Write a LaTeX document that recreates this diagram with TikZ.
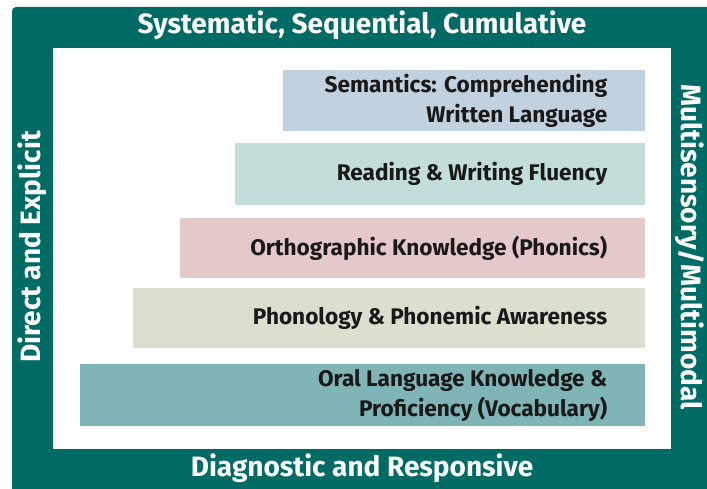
\documentclass[tikz,border=0pt]{standalone}
\usepackage{fontspec}
\setmainfont{Fira Sans}
\definecolor{frameteal}{RGB}{0,106,101}
\definecolor{cSem}{RGB}{193,209,221}
\definecolor{cRead}{RGB}{195,221,218}
\definecolor{cOrth}{RGB}{229,201,201}
\definecolor{cPhon}{RGB}{219,223,205}
\definecolor{cOral}{RGB}{128,181,183}
\definecolor{txtdark}{RGB}{25,25,25}
\begin{document}
\begin{tikzpicture}[x=1pt,y=-1pt,
  barbox/.style={anchor=north west, inner sep=0pt, draw=none},
  barlabel/.style={anchor=east, align=right, text=txtdark, font=\bfseries\fontsize{22.6}{30}\selectfont, inner sep=0pt},
  framelabel/.style={text=white, font=\bfseries\fontsize{28}{32}\selectfont, inner sep=0pt}]
\useasboundingbox (0,0) rectangle (707,489);
\fill[white] (0,0) rectangle (707,489);
% frame
\fill[frameteal, rounded corners=4pt] (12,7) rectangle (712,494);
\fill[white] (53,48) rectangle (671,449);
% bars
\node[barbox, fill=cSem, minimum width=362, minimum height=61] (b1) at (283,70) {};
\node[barbox, fill=cRead, minimum width=410, minimum height=62] (b2) at (235,143) {};
\node[barbox, fill=cOrth, minimum width=465, minimum height=60] (b3) at (180,218) {};
\node[barbox, fill=cPhon, minimum width=512, minimum height=60] (b4) at (133,288) {};
\node[barbox, fill=cOral, minimum width=565, minimum height=62] (b5) at (80,364) {};
% bar labels
\node[barlabel] (t1) at ([xshift=-38]b1.east) {Semantics: Comprehending\\Written Language};
\node[barlabel] (t2) at ([xshift=-38]b2.east) {Reading \& Writing Fluency};
\node[barlabel] (t3) at ([xshift=-38]b3.east) {Orthographic Knowledge (Phonics)};
\node[barlabel] (t4) at ([xshift=-38]b4.east) {Phonology \& Phonemic Awareness};
\node[barlabel] (t5) at ([xshift=-38]b5.east) {Oral Language Knowledge \&\\Proficiency (Vocabulary)};
% frame labels
\node[framelabel] (top) at (362,25) {Systematic, Sequential, Cumulative};
\node[framelabel] (bottom) at (362,468) {Diagnostic and Responsive};
\node[framelabel, rotate=90] (left) at (32,247) {Direct and Explicit};
\node[framelabel, rotate=-90] (right) at (690,247) {Multisensory/Multimodal};
\end{tikzpicture}
\end{document}
